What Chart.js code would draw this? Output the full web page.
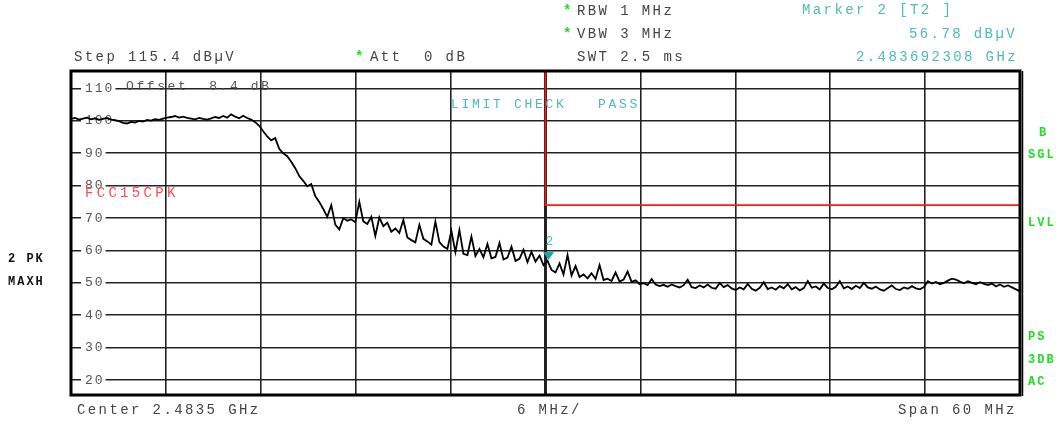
<!DOCTYPE html>
<html><head><meta charset="utf-8">
<script src="https://cdn.jsdelivr.net/npm/chart.js@4.4.1/dist/chart.umd.min.js"></script>
<style>html,body{margin:0;padding:0;background:#fff;overflow:hidden}#wrap{width:1060px;height:423px;position:relative}</style>
</head><body><div id="wrap"><canvas id="c" width="1060" height="423"></canvas></div>
<script>
// Frequency axis: offset in MHz from 2.4535 GHz (center 2.4835 GHz, span 60 MHz)
const spanMHz = 60;
const divMHz = 6;
const refLevel = 115.4;
const bottomLevel = 15.4;
const yTickValues = [20, 30, 40, 50, 60, 70, 80, 90, 100, 110];
const yTickLabels = ["20", "30", "40", "50", "60", "70", "80", "90", "100", "110"];

// Trace (dBµV), equally spaced sweep points across the span
const traceLevels = [
  100.6,100.9,100.4,100.7,101.0,100.5,100.8,100.3,100.6,100.9,100.4,100.2,99.9,
  99.4,99.2,99.7,99.5,100.0,99.8,100.3,100.1,100.5,100.3,100.7,
  101.0,101.2,101.5,101.0,101.3,100.9,100.7,100.5,100.9,100.6,100.4,100.8,
  101.2,100.9,101.5,101.0,102.0,101.3,100.8,101.6,100.9,100.4,
  99.6,98.5,96.8,95.2,94.0,
  94.7,91.4,90.0,89.1,87.4,85.4,83.0,81.5,79.8,80.5,76.8,75.0,72.8,70.4,74.0,68.0,66.5,70.0,69.2,69.6,
  68.7,75.0,69.0,68.2,70.4,64.5,70.2,67.5,68.6,65.8,66.8,65.4,69.4,64.0,63.2,62.5,67.9,63.6,62.8,61.8,
  68.9,62.6,61.2,60.5,66.0,59.5,66.3,59.0,58.6,64.3,58.3,60.5,57.9,62.0,57.6,58.0,62.3,57.2,57.8,61.2,
  56.8,57.4,60.2,56.4,59.6,56.6,58.4,55.5,56.8,54.0,53.2,56.0,52.6,58.6,52.3,55.2,51.8,52.6,51.4,53.0,
  51.2,55.5,50.9,51.3,50.6,53.2,50.4,51.0,53.5,50.3,50.8,49.6,49.9,49.3,51.2,49.5,49.0,49.4,48.8,49.5,
  49.0,48.6,49.3,51.0,48.7,48.4,49.2,48.6,49.5,48.5,48.2,50.0,48.7,49.3,48.3,47.8,48.6,48.0,49.7,48.2,
  47.6,48.5,50.2,48.1,48.6,47.9,49.0,48.3,49.6,48.0,48.7,47.7,48.4,50.6,48.5,48.9,48.0,49.8,48.4,48.0,
  48.8,50.5,48.3,48.9,48.1,49.1,48.4,50.0,48.6,48.2,48.9,48.0,47.6,48.4,49.2,48.1,47.8,48.6,48.2,49.0,
  48.3,48.0,48.7,50.5,49.8,50.3,49.6,50.0,50.7,51.3,51.0,50.4,49.9,50.5,50.0,49.6,50.2,49.7,49.3,49.8,
  48.9,49.5,48.8,49.2,48.6,48.0,47.4
];

// FCC15CPK limit line
const limitFreqs = [30, 30, 60];
const limitLevels = [130, 74, 74];

// Marker 2
const markerFreqs = [30.192308];
const markerLevels = [56.78];

const tracePoints = traceLevels.map((v, i) => ({ x: i * spanMHz / (traceLevels.length - 1), y: v }));
const limitPoints = limitFreqs.map((f, i) => ({ x: f, y: limitLevels[i] }));

const MONO = '"Liberation Mono", "DejaVu Sans Mono", monospace';
const GREEN = '#22dd22';
const TEAL = '#4dbaba';

function txt(ctx, s, x, y, color, size, bold, spacing) {
  ctx.save();
  ctx.font = (bold ? 'bold ' : '') + size + 'px ' + MONO;
  ctx.letterSpacing = (spacing == null ? 2.4 : spacing) + 'px';
  ctx.fillStyle = color;
  ctx.textAlign = 'left';
  ctx.textBaseline = 'middle';
  ctx.fillText(s, x, y);
  ctx.restore();
}

const deco = {
  id: 'deco',
  beforeDatasetsDraw(chart) {
    const { ctx, scales: { y }, chartArea: a } = chart;
    ctx.save();
    ctx.font = '13px ' + MONO;
    ctx.letterSpacing = '2px';
    ctx.textBaseline = 'middle';
    yTickValues.forEach((v, i) => {
      const py = y.getPixelForValue(v);
      const w = ctx.measureText(yTickLabels[i]).width;
      ctx.fillStyle = '#fff';
      ctx.fillRect(a.left + 10, py - 3, w + 5, 6);
      ctx.fillStyle = '#555';
      ctx.fillText(yTickLabels[i], a.left + 14, py);
    });
    ctx.restore();
  },
  afterDatasetsDraw(chart) {
    const { ctx, scales: { x, y }, chartArea: a } = chart;
    // in-plot texts
    txt(ctx, 'Offset  8.4 dB', 126, 87, '#555', 13, false, 2.6);
    txt(ctx, 'LIMIT CHECK   PASS', 451, 105, TEAL, 13, false, 2.7);
    txt(ctx, 'FCC15CPK', 85, 193, '#ff4a4a', 14, false, 3.3);
    // marker
    const mx = x.getPixelForValue(markerFreqs[0]);
    const my = y.getPixelForValue(markerLevels[0]);
    ctx.save();
    ctx.fillStyle = '#1fa3a3';
    ctx.beginPath();
    ctx.moveTo(mx - 5.5, my - 9);
    ctx.lineTo(mx + 5.5, my - 9);
    ctx.lineTo(mx, my - 1);
    ctx.closePath();
    ctx.fill();
    ctx.restore();
    txt(ctx, '2', mx - 3, my - 19, TEAL, 13, false, 0);
    // frame
    ctx.save();
    ctx.strokeStyle = '#000';
    ctx.lineWidth = 3;
    ctx.strokeRect(a.left, a.top, a.right - a.left, a.bottom - a.top);
    ctx.lineWidth = 1.5;
    ctx.beginPath();
    ctx.moveTo(a.right + 2.5, a.top);
    ctx.lineTo(a.right + 2.5, a.bottom + 1);
    ctx.stroke();
    ctx.restore();
  },
  afterDraw(chart) {
    const ctx = chart.ctx;
    // header
    txt(ctx, '*', 563, 11, GREEN, 14, true, 0);
    txt(ctx, 'RBW 1 MHz', 577, 11.5, '#444', 14);
    txt(ctx, '*', 563, 34, GREEN, 14, true, 0);
    txt(ctx, 'VBW 3 MHz', 577, 34, '#444', 14);
    txt(ctx, 'SWT 2.5 ms', 577, 57, '#444', 14);
    txt(ctx, '*', 355, 57, GREEN, 14, true, 0);
    txt(ctx, 'Att  0 dB', 370, 57, '#444', 14);
    txt(ctx, 'Step 115.4 dBµV', 74, 57.5, '#444', 14);
    txt(ctx, 'Marker 2 [T2 ]', 802, 10.5, TEAL, 14);
    txt(ctx, '56.78 dBµV', 909, 34, TEAL, 14);
    txt(ctx, '2.483692308 GHz', 856, 57, TEAL, 14);
    // left status
    txt(ctx, '2 PK', 8, 258.5, '#111', 12, true, 2);
    txt(ctx, 'MAXH', 8, 281.5, '#111', 12, true, 2);
    // right status
    txt(ctx, 'B', 1039, 133, GREEN, 12, true, 2);
    txt(ctx, 'SGL', 1028, 155, GREEN, 12, true, 2);
    txt(ctx, 'LVL', 1028, 223, GREEN, 12, true, 2);
    txt(ctx, 'PS', 1028, 337, GREEN, 12, true, 2);
    txt(ctx, '3DB', 1028, 359.5, GREEN, 12, true, 2);
    txt(ctx, 'AC', 1028, 381.5, GREEN, 12, true, 2);
    // footer
    txt(ctx, 'Center 2.4835 GHz', 77, 410.5, '#444', 14);
    txt(ctx, '6 MHz/', 517, 410.5, '#444', 14);
    txt(ctx, 'Span 60 MHz', 898, 410.5, '#444', 14);
  }
};

new Chart(document.getElementById('c'), {
  type: 'line',
  data: {
    datasets: [
      { data: tracePoints, borderColor: '#000', borderWidth: 1.8, pointRadius: 0, tension: 0, order: 2 },
      { data: limitPoints, borderColor: '#ff1a1a', borderWidth: 1.6, pointRadius: 0, tension: 0, order: 1 }
    ]
  },
  options: {
    responsive: false,
    animation: false,
    devicePixelRatio: 1,
    layout: { padding: { left: 71, top: 71, right: 40, bottom: 28 } },
    plugins: { legend: { display: false }, tooltip: { enabled: false } },
    scales: {
      x: {
        type: 'linear', min: 0, max: spanMHz,
        ticks: { display: false, stepSize: divMHz },
        grid: { color: '#222', lineWidth: c => (c.tick && c.tick.value === 30 ? 3 : 1.6), drawTicks: false },
        border: { display: false }
      },
      y: {
        type: 'linear', min: bottomLevel, max: refLevel,
        ticks: { display: false, stepSize: 10 },
        afterBuildTicks: s => { s.ticks = yTickValues.map(v => ({ value: v })); },
        grid: { color: '#222', lineWidth: 1.6, drawTicks: false },
        border: { display: false }
      }
    }
  },
  plugins: [deco]
});
</script>
</body></html>
